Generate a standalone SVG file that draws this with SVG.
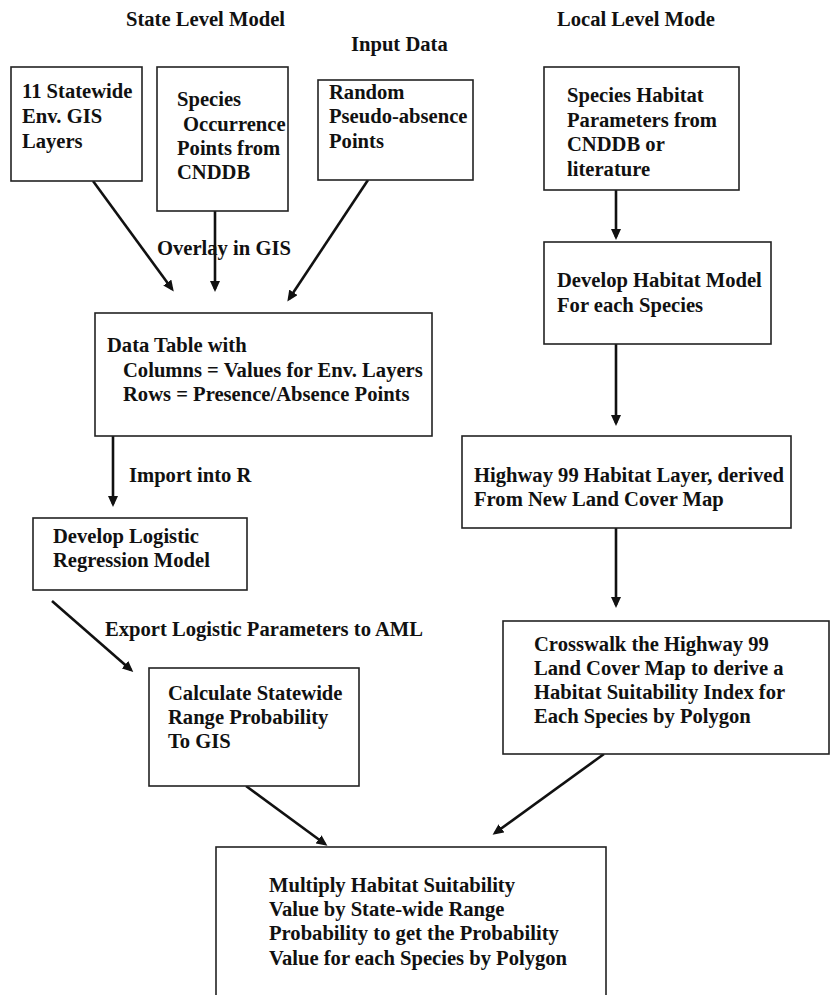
<svg xmlns="http://www.w3.org/2000/svg" width="831" height="995" viewBox="0 0 831 995">
<style>
.box{fill:#fff;stroke:#222;stroke-width:1.6}
.t{font-family:"Liberation Serif","Times New Roman",serif;font-weight:bold;font-size:20.6px;fill:#111}
.c{stroke:#111;stroke-width:2.6;fill:none;marker-end:url(#ah)}
</style>
<defs>
<marker id="ah" markerUnits="userSpaceOnUse" markerWidth="11" markerHeight="10" refX="8" refY="5" orient="auto">
<path d="M0,0 L11,5 L0,10 z" fill="#111"/>
</marker>
</defs>
<rect width="831" height="995" fill="#fff"/>
<g id="titles">
<text class="t" x="126" y="26">State Level Model</text>
<text class="t" x="351" y="51">Input Data</text>
<text class="t" x="557" y="26">Local Level Mode</text>
</g>
<g id="connectors">
<line class="c" x1="93" y1="181" x2="172" y2="289"/>
<line class="c" x1="215" y1="211" x2="215" y2="289"/>
<line class="c" x1="368" y1="180" x2="289" y2="299"/>
<line class="c" x1="616" y1="190" x2="616" y2="237"/>
<line class="c" x1="113" y1="436" x2="113" y2="504"/>
<line class="c" x1="52" y1="601" x2="131" y2="670"/>
<line class="c" x1="616" y1="344" x2="616" y2="423"/>
<line class="c" x1="616" y1="528" x2="616" y2="605"/>
<line class="c" x1="246" y1="786" x2="325" y2="844"/>
<line class="c" x1="604" y1="754" x2="495" y2="833"/>
<text class="t" x="157" y="255">Overlay in GIS</text>
<text class="t" x="129" y="482">Import into R</text>
<text class="t" x="105" y="636">Export Logistic Parameters to AML</text>
</g>
<g id="n1">
<rect class="box" x="11" y="67" width="131" height="114"/>
<text class="t" x="22" y="98">11 Statewide</text>
<text class="t" x="22" y="123">Env. GIS</text>
<text class="t" x="22" y="148">Layers</text>
</g>
<g id="n2">
<rect class="box" x="157" y="67" width="131" height="144"/>
<text class="t" x="177" y="106">Species</text>
<text class="t" x="183" y="131">Occurrence</text>
<text class="t" x="177" y="155">Points from</text>
<text class="t" x="177" y="179">CNDDB</text>
</g>
<g id="n3">
<rect class="box" x="318" y="80" width="155" height="100"/>
<text class="t" x="329" y="99">Random</text>
<text class="t" x="329" y="123">Pseudo-absence</text>
<text class="t" x="329" y="148">Points</text>
</g>
<g id="n4">
<rect class="box" x="544" y="67" width="195" height="123"/>
<text class="t" x="567" y="102">Species Habitat</text>
<text class="t" x="567" y="127">Parameters from</text>
<text class="t" x="567" y="151">CNDDB or</text>
<text class="t" x="567" y="176">literature</text>
</g>
<g id="n5">
<rect class="box" x="544" y="242" width="227" height="102"/>
<text class="t" x="557" y="287">Develop Habitat Model</text>
<text class="t" x="557" y="312">For each Species</text>
</g>
<g id="n6">
<rect class="box" x="95" y="313" width="337" height="123"/>
<text class="t" x="107" y="352">Data Table with</text>
<text class="t" x="123" y="377">Columns = Values for Env. Layers</text>
<text class="t" x="123" y="401">Rows = Presence/Absence Points</text>
</g>
<g id="n7">
<rect class="box" x="33" y="518" width="214" height="72"/>
<text class="t" x="53" y="543">Develop Logistic</text>
<text class="t" x="53" y="567">Regression Model</text>
</g>
<g id="n8">
<rect class="box" x="462" y="436" width="329" height="92"/>
<text class="t" x="474" y="482">Highway 99 Habitat Layer, derived</text>
<text class="t" x="474" y="506">From New Land Cover Map</text>
</g>
<g id="n9">
<rect class="box" x="149" y="668" width="210" height="118"/>
<text class="t" x="168" y="700">Calculate Statewide</text>
<text class="t" x="168" y="724">Range Probability</text>
<text class="t" x="168" y="748">To GIS</text>
</g>
<g id="n10">
<rect class="box" x="503" y="621" width="326" height="133"/>
<text class="t" x="534" y="651">Crosswalk the Highway 99</text>
<text class="t" x="534" y="675">Land Cover Map to derive a</text>
<text class="t" x="534" y="699">Habitat Suitability Index for</text>
<text class="t" x="534" y="723">Each Species by Polygon</text>
</g>
<g id="n11">
<rect class="box" x="216" y="847" width="390" height="160"/>
<text class="t" x="269" y="892">Multiply Habitat Suitability</text>
<text class="t" x="269" y="916">Value by State-wide Range</text>
<text class="t" x="269" y="940">Probability to get the Probability</text>
<text class="t" x="269" y="965">Value for each Species by Polygon</text>
</g>
</svg>
